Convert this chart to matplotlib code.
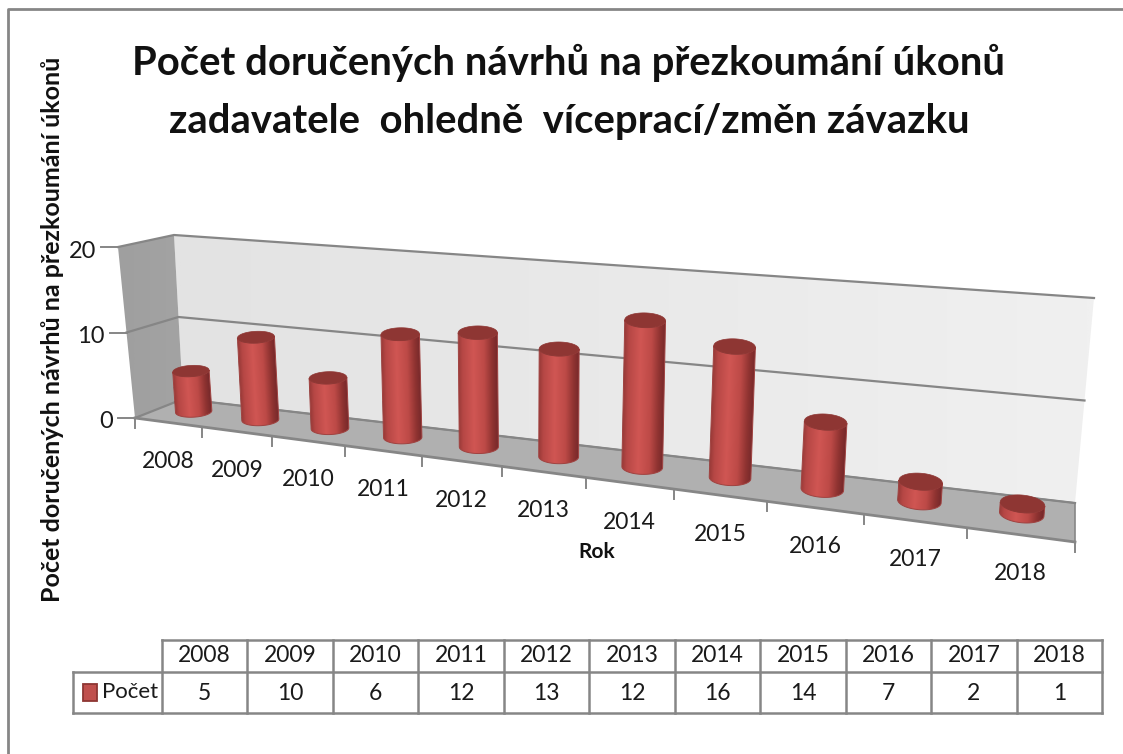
import numpy as np
import matplotlib
matplotlib.use("Agg")
from matplotlib import pyplot as plt
from matplotlib.colors import to_rgb
from matplotlib.patches import Polygon, Rectangle
from matplotlib.transforms import Affine2D

years = ["2008", "2009", "2010", "2011", "2012", "2013", "2014", "2015", "2016", "2017", "2018"]
counts = [5, 10, 6, 12, 13, 12, 16, 14, 7, 2, 1]
y_ticks = [0, 10, 20]
title_lines = ["Počet doručených návrhů na přezkoumání úkonů", "zadavatele  ohledně  víceprací/změn závazku"]
y_title = "Počet doručených návrhů na přezkoumání úkonů"
x_title = "Rok"
series_name = "Počet"

plt.rcParams["font.family"] = ["Lato", "DejaVu Sans"]
W, H = 1123, 754
LINE = "#868686"
TXT = "#1a1a1a"

# corners of the 3d box, in pixels: (x, y) per z level
FRONT_L = {0: (135, 418), 20: (118, 247)}
FRONT_R = {0: (1075, 542), 20: (1093, 320)}
BACK_L = {0: (183, 399), 20: (174, 235)}
BACK_R = {0: (1075, 503), 20: (1094, 298)}

def persp(u):
	return u / (u + 1.3 * (1 - u))

def lerp(a, b, t):
	return (a[0] + (b[0] - a[0]) * t, a[1] + (b[1] - a[1]) * t)

def proj(u, depth, z):
	t = persp(u)
	bottom = lerp(lerp(FRONT_L[0], FRONT_R[0], t), lerp(BACK_L[0], BACK_R[0], t), depth)
	top = lerp(lerp(FRONT_L[20], FRONT_R[20], t), lerp(BACK_L[20], BACK_R[20], t), depth)
	return lerp(bottom, top, z / 20.)

def gradient(ax, pts, c0, c1, z):
	img = np.linspace(0, 1, 64)[None, :, None]
	rgb = np.array(to_rgb(c0)) * (1 - img) + np.array(to_rgb(c1)) * img
	xs = [p[0] for p in pts]
	ys = [p[1] for p in pts]
	im = ax.imshow(rgb, extent=(min(xs), max(xs), max(ys), min(ys)), aspect="auto", zorder=z, interpolation="bilinear")
	im.set_clip_path(Polygon(pts, closed=True, transform=ax.transData))

# colour across the width of a cylinder
BODY_STOPS = [0, 0.1, 0.38, 0.65, 0.85, 1]
BODY_COLS = np.array([to_rgb(c) for c in ["#9b3b39", "#b64745", "#d05653", "#bd4a47", "#8f3331", "#74282a"]])

def cylinder(ax, i, value, n):
	u = (i + 0.5) / n
	t = persp(u)
	cb = proj(u, 0.55, 0)
	ct = proj(u, 0.55, value * 0.96)
	rx = 18 + 4.5 * t
	ry = 5.5 + 3.5 * t
	tilt = -0.06 + 0.16 * t
	z = 5 + i * 0.01

	def ring(c, a):
		return np.c_[c[0] + rx * np.cos(a), c[1] + ry * np.sin(a) + tilt * rx * np.cos(a)]

	outline = np.r_[ring(cb, np.linspace(np.pi, 0, 40)), ring(ct, np.linspace(0, np.pi, 40))]
	s = np.linspace(0, 1, 128)
	rgb = np.dstack([np.interp(s, BODY_STOPS, BODY_COLS[:, k])[None, :] for k in range(3)])
	top_y, bot_y = ct[1] - ry - 8, cb[1] + ry + 8
	k = (ct[0] - cb[0]) / (ct[1] - cb[1])
	im = ax.imshow(rgb, extent=(0, 1, bot_y, top_y), aspect="auto", zorder=z, interpolation="bilinear")
	im.set_transform(Affine2D.from_values(2 * rx, 0, k, 1, cb[0] - rx - k * cb[1], 0) + ax.transData)
	im.set_clip_path(Polygon(outline, closed=True, transform=ax.transData))
	ax.add_patch(Polygon(outline, closed=True, fc="none", ec="#a04240", lw=0.7, zorder=z + 0.002))
	ax.add_patch(Polygon(ring(ct, np.linspace(0, 2 * np.pi, 60)), closed=True, fc="#8e3633", ec="#8e3633", lw=0.5, zorder=z + 0.005))

fig = plt.figure(figsize=(W / 100., H / 100.), dpi=100)
ax = fig.add_axes([0, 0, 1, 1])
ax.set_xlim(0, W)
ax.set_ylim(H, 0)
ax.axis("off")

# chart frame
ax.plot([7.5, 7.5, W], [H, 9, 9], color=LINE, lw=2, zorder=1)

# walls and floor
gradient(ax, [BACK_L[0], BACK_L[20], BACK_R[20], BACK_R[0]], "#e3e3e3", "#f0f0f0", 2)
gradient(ax, [FRONT_L[0], FRONT_L[20], BACK_L[20], BACK_L[0]], "#9f9f9f", "#a3a3a3", 2)
ax.add_patch(Polygon([FRONT_L[0], BACK_L[0], BACK_R[0], FRONT_R[0]], closed=True, fc="#b0b0b0", ec="none", zorder=3))

# grid lines
for v in y_ticks:
	a, b, c = proj(0, 0, v), proj(0, 1, v), proj(1, 1, v)
	ax.plot([a[0], b[0], c[0]], [a[1], b[1], c[1]], color=LINE, lw=1.6, zorder=4)
	ax.plot([a[0] - 17, a[0]], [a[1], a[1]], color=LINE, lw=1.4, zorder=4)
	ax.text(a[0] - 22, a[1] + 4, str(v), ha="right", va="center", fontsize=17, color=TXT)
a, b = proj(0, 0, 0), proj(1, 0, 0)
ax.plot([a[0], b[0]], [a[1], b[1]], color=LINE, lw=2, zorder=4)
c, d = proj(1, 1, 0), proj(0, 1, 0)
ax.plot([c[0], d[0]], [c[1], d[1]], color=LINE, lw=1.2, zorder=4)
ax.plot([c[0], b[0]], [c[1], b[1]], color=LINE, lw=1.2, zorder=4)

# category ticks and labels
n = len(years)
for i in range(n + 1):
	p = proj(float(i) / n, 0, 0)
	ax.plot([p[0], p[0]], [p[1], p[1] + 10], color=LINE, lw=1.4, zorder=4)
for i, year in enumerate(years):
	p = proj((i + 0.5) / n, 0, 0)
	ax.text(p[0], p[1] + 39, year, ha="center", va="center", fontsize=16.5, color=TXT)

for i, v in enumerate(counts):
	cylinder(ax, i, v, n)

# titles
ax.text(569, 63, title_lines[0], ha="center", va="center", fontsize=28.8, fontweight="bold", color="#111111")
ax.text(569, 121, title_lines[1], ha="center", va="center", fontsize=28.8, fontweight="bold", color="#111111")
ax.text(53, 329, y_title, rotation=90, ha="center", va="center", fontsize=18, fontweight="bold", color="#111111")
ax.text(597, 552, x_title, ha="center", va="center", fontsize=15, fontweight="bold", color="#111111")

# data table
col_edges = np.linspace(162, 1102, n + 1)
ys = [640, 672, 713]
for x in col_edges:
	ax.plot([x, x], [ys[0], ys[2]], color=LINE, lw=1.8, zorder=2)
ax.plot([162, 1102], [ys[0], ys[0]], color=LINE, lw=1.8, zorder=2)
ax.plot([73, 1102], [ys[1], ys[1]], color=LINE, lw=1.8, zorder=2)
ax.plot([73, 1102], [ys[2], ys[2]], color=LINE, lw=1.8, zorder=2)
ax.plot([73, 73], [ys[1], ys[2]], color=LINE, lw=1.8, zorder=2)
for i in range(n):
	xc = (col_edges[i] + col_edges[i + 1]) / 2.
	ax.text(xc, 656, years[i], ha="center", va="center", fontsize=16.5, color=TXT)
	ax.text(xc, 693, str(counts[i]), ha="center", va="center", fontsize=16.5, color=TXT)
ax.add_patch(Rectangle((82.5, 684), 14, 17, fc="#c0504d", ec="#8e3633", lw=1.3, zorder=3))
ax.text(102, 692, series_name, ha="left", va="center", fontsize=16, color=TXT)

fig.savefig("out.png", dpi=100)
